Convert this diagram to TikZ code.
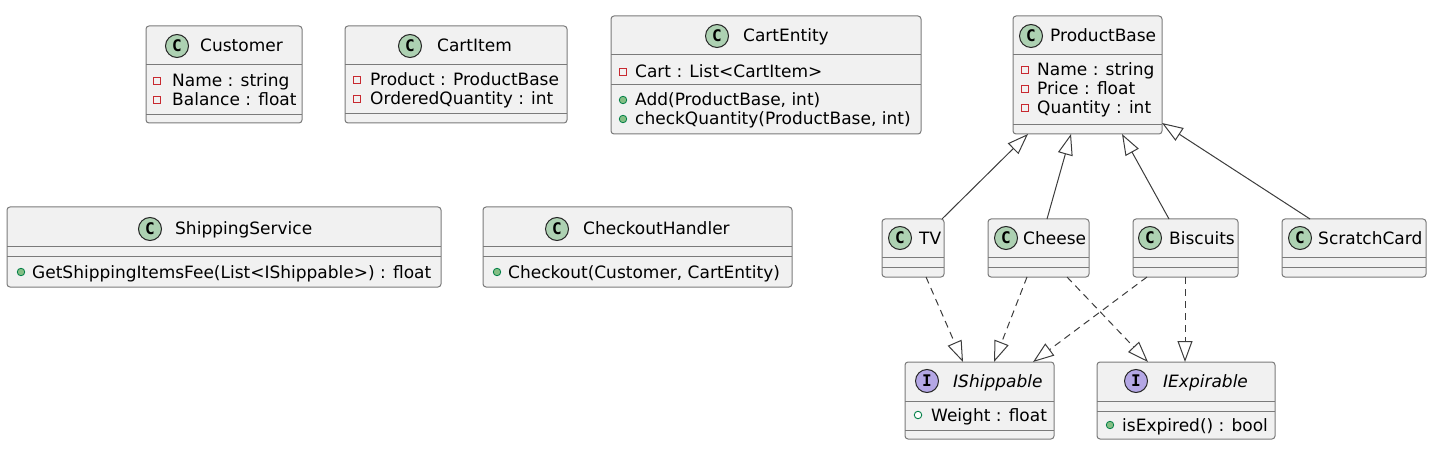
\documentclass[tikz,border=0pt]{standalone}
\usepackage{fontspec}
\setmainfont{DejaVu Sans}
\newfontfamily\iconfont{DejaVu Sans Mono}
\usepackage{tikz}
\usetikzlibrary{arrows.meta}

\definecolor{boxfill}{HTML}{F1F1F1}
\definecolor{boxline}{HTML}{7A7A7A}
\definecolor{linkline}{HTML}{3C3C3C}
\definecolor{classicon}{HTML}{ADD1B2}
\definecolor{ifaceicon}{HTML}{B4A7E5}
\definecolor{privred}{HTML}{C82930}
\definecolor{pubgreen}{HTML}{038048}
\definecolor{pubfill}{HTML}{84BE84}

\tikzset{
  classbox/.style={draw=boxline, fill=boxfill, line width=1, rounded corners=3,
    inner sep=0, outer sep=0, anchor=north west},
  compline/.style={draw=boxline, line width=1},
  iconC/.style={circle, draw=black!85, line width=1, fill=classicon, minimum size=23,
    inner sep=0, font=\iconfont\fontsize{16}{16}\selectfont\bfseries},
  iconI/.style={iconC, fill=ifaceicon},
  hdr/.style={anchor=base west, inner sep=0},
  member/.style={anchor=base west, inner sep=0},
  privattr/.style={rectangle, draw=privred, line width=0.9, minimum size=7, inner sep=0},
  pubmeth/.style={circle, draw=pubgreen, fill=pubfill, line width=0.8, minimum size=7.5, inner sep=0},
  pubattr/.style={circle, draw=pubgreen, fill=white, line width=0.9, minimum size=7.5, inner sep=0},
  extends/.style={draw=linkline, line width=1, -{Triangle[open, length=21, width=15]}},
  realizes/.style={extends, dash pattern=on 7 off 5},
}

% box frame with its two compartment lines
\newcommand{\classframe}[7]{%
  \node[classbox, minimum width={#4-#2}, minimum height={#5-#3}] (#1) at (#2,#3) {};
  \draw[compline] (#2,#6) -- (#4,#6);
  \draw[compline] (#2,#7) -- (#4,#7);
}

\begin{document}
\begin{tikzpicture}[x=1pt, y=-1pt, font=\fontsize{17}{20}\selectfont]
  \useasboundingbox (0,0) rectangle (1434,454);

  % Customer
  \classframe{customer}{146}{26}{302}{123}{65}{115}
  \node[iconC] (customer-ic) at (177,46) {C};
  \node[hdr] at (200,52) {Customer};
  \node[privattr] at (157,81) {};
  \node[member] at (172,87) {Name : string};
  \node[privattr] at (157,100) {};
  \node[member] at (172,106) {Balance : float};

  % CartItem
  \classframe{cartitem}{345}{26}{567}{123}{65}{114}
  \node[iconC] (cartitem-ic) at (410,46) {C};
  \node[hdr] at (437,52) {CartItem};
  \node[privattr] at (357,80) {};
  \node[member] at (370,86) {Product : ProductBase};
  \node[privattr] at (357,99) {};
  \node[member] at (370,105) {OrderedQuantity : int};

  % CartEntity
  \classframe{cartentity}{611}{16}{921}{134}{55}{85}
  \node[iconC] (cartentity-ic) at (717,36) {C};
  \node[hdr] at (743,42) {CartEntity};
  \node[privattr] at (623,72) {};
  \node[member] at (635,78) {Cart : List<CartItem>};
  \node[pubmeth] at (623,100) {};
  \node[member] at (635,106) {Add(ProductBase, int)};
  \node[pubmeth] at (623,119) {};
  \node[member] at (635,125) {checkQuantity(ProductBase, int)};

  % ProductBase
  \classframe{pb}{1013}{16}{1162}{134}{55}{125}
  \node[iconC] (pb-ic) at (1031,36) {C};
  \node[hdr] at (1050,42) {ProductBase};
  \node[privattr] at (1025,70) {};
  \node[member] at (1037,76) {Name : string};
  \node[privattr] at (1025,89) {};
  \node[member] at (1037,95) {Price : float};
  \node[privattr] at (1025,108) {};
  \node[member] at (1037,114) {Quantity : int};

  % ShippingService
  \classframe{shipping}{7}{207}{441}{287}{247}{257}
  \node[iconC] (shipping-ic) at (150,229) {C};
  \node[hdr] at (175,235) {ShippingService};
  \node[pubmeth] at (21,272) {};
  \node[member] at (32,278) {GetShippingItemsFee(List<IShippable>) : float};

  % CheckoutHandler
  \classframe{checkout}{483}{207}{792}{287}{247}{257}
  \node[iconC] (checkout-ic) at (557,229) {C};
  \node[hdr] at (583,235) {CheckoutHandler};
  \node[pubmeth] at (497,272) {};
  \node[member] at (508,278) {Checkout(Customer, CartEntity)};

  % products
  \classframe{tv}{882}{219}{944}{277}{258}{268}
  \node[iconC] (tv-ic) at (900,238) {C};
  \node[hdr] at (919,244) {TV};
  \classframe{cheese}{988}{219}{1089}{277}{258}{268}
  \node[iconC] (cheese-ic) at (1006,238) {C};
  \node[hdr] at (1023,244) {Cheese};
  \classframe{biscuits}{1133}{219}{1238}{277}{258}{268}
  \node[iconC] (biscuits-ic) at (1150,238) {C};
  \node[hdr] at (1169,244) {Biscuits};
  \classframe{scratch}{1282}{219}{1426}{277}{258}{268}
  \node[iconC] (scratch-ic) at (1300,238) {C};
  \node[hdr] at (1318,244) {ScratchCard};

  % interfaces
  \classframe{shippable}{905}{362}{1054}{439}{401}{430}
  \node[iconI] (shippable-ic) at (927,381) {I};
  \node[hdr] at (953,387) {\itshape IShippable};
  \node[pubattr] at (918,415) {};
  \node[member] at (931,421) {Weight : float};
  \classframe{expirable}{1097}{362}{1275}{439}{401}{411}
  \node[iconI] (expirable-ic) at (1136,381) {I};
  \node[hdr] at (1163,387) {\itshape IExpirable};
  \node[pubmeth] at (1110,425) {};
  \node[member] at (1122,431) {isExpired() : bool};

  % inheritance
  \draw[extends] ([xshift=60]tv.north west) -- ([xshift=15]pb.south west);
  \draw[extends] ([xshift=59]cheese.north west) -- ([xshift=58]pb.south west);
  \draw[extends] ([xshift=36]biscuits.north west) -- ([xshift=109]pb.south west);
  \draw[extends] ([xshift=28]scratch.north west) -- ([yshift=11]pb.south east);

  % realization
  \draw[realizes] ([xshift=44]tv.south west) -- ([xshift=58]shippable.north west);
  \draw[realizes] ([xshift=39]cheese.south west) -- ([xshift=89]shippable.north west);
  \draw[realizes] ([xshift=79]cheese.south west) -- ([xshift=51]expirable.north west);
  \draw[realizes] ([xshift=14]biscuits.south west) -- ([xshift=128]shippable.north west);
  \draw[realizes] ([xshift=52]biscuits.south west) -- ([xshift=88]expirable.north west);
\end{tikzpicture}
\end{document}
